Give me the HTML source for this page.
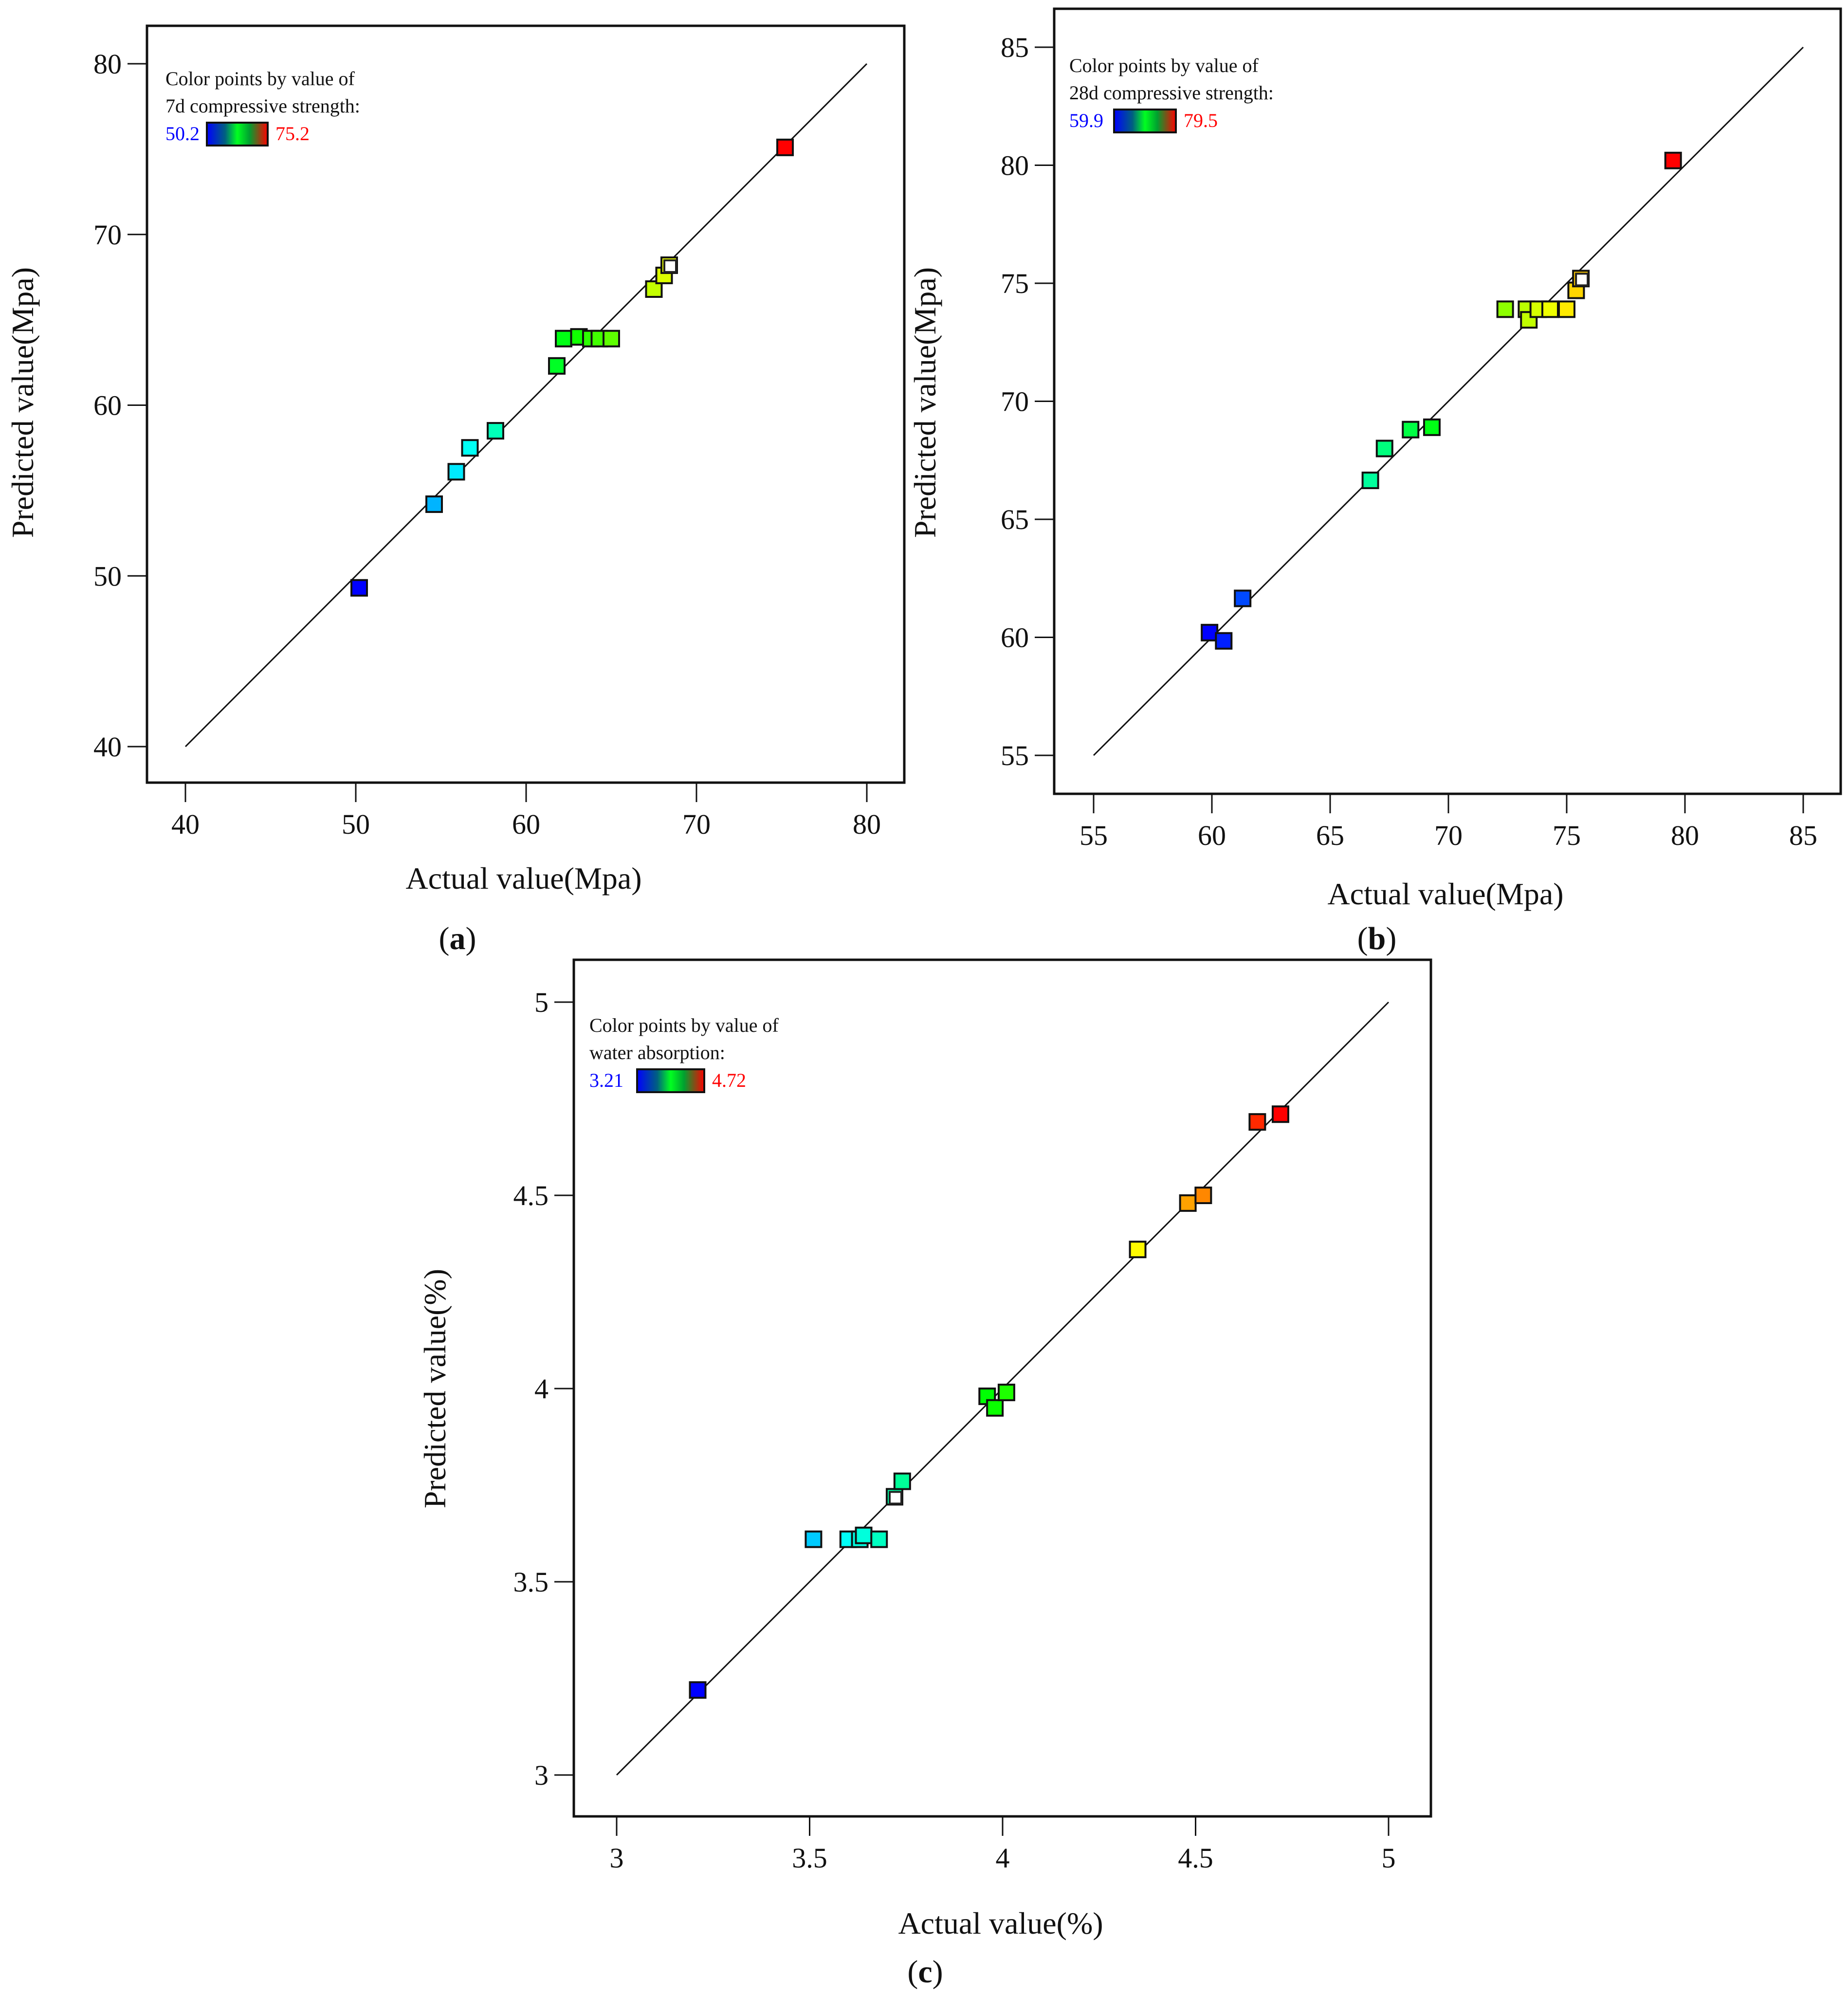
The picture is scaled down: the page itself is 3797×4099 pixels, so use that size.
<!DOCTYPE html>
<html><head><meta charset="utf-8">
<style>
html,body{margin:0;padding:0;background:#fff;}
svg{display:block;font-family:"Liberation Serif",serif;}
</style></head>
<body>
<svg id="fig" width="3797" height="4099" viewBox="0 0 3797 4099" xmlns="http://www.w3.org/2000/svg">
<defs>
<linearGradient id="cbar" x1="0" x2="1" y1="0" y2="0">
<stop offset="0" stop-color="#0000ff"/><stop offset="0.3" stop-color="#006080"/><stop offset="0.5" stop-color="#00ff20"/><stop offset="0.7" stop-color="#00a030"/><stop offset="1" stop-color="#ff0000"/>
</linearGradient>
</defs>
</svg>
<script>
// ---- Panel (a): 7d compressive strength ----
const aActual = [50.2,54.6,55.9,56.7,58.2,61.8,62.2,63.1,63.8,64.3,65.0,67.5,68.1,68.4,75.2];
const aPred   = [49.3,54.2,56.1,57.5,58.5,62.3,63.9,64.0,63.9,63.9,63.9,66.8,67.6,68.2,75.1];
const aHollow = [13];
const aTicks  = [40,50,60,70,80];
// ---- Panel (b): 28d compressive strength ----
const bActual = [59.9,60.5,61.3,66.7,67.3,68.4,69.3,72.4,73.3,73.4,73.8,74.3,75.0,75.4,75.6,79.5];
const bPred   = [60.2,59.85,61.65,66.65,68.0,68.8,68.9,73.9,73.9,73.45,73.9,73.9,73.9,74.7,75.2,80.2];
const bHollow = [14];
const bTicks  = [55,60,65,70,75,80,85];
// ---- Panel (c): water absorption ----
const cActual = [3.21,3.51,3.60,3.63,3.64,3.68,3.72,3.74,3.96,3.98,4.01,4.35,4.48,4.52,4.66,4.72];
const cPred   = [3.22,3.61,3.61,3.61,3.62,3.61,3.72,3.76,3.98,3.95,3.99,4.36,4.48,4.50,4.69,4.71];
const cHollow = [6];
const cTicks  = [3,3.5,4,4.5,5];
const cTickLabels = ["3","3.5","4","4.5","5"];

const NS="http://www.w3.org/2000/svg";
const svg=document.getElementById('fig');
function mk(tag,attrs,parent){const e=document.createElementNS(NS,tag);for(const k in attrs)e.setAttribute(k,attrs[k]);(parent||svg).appendChild(e);return e;}
function jet(t){
  t=Math.max(0,Math.min(1,t));
  const stops=[[0,0,0,255],[0.25,0,255,255],[0.5,0,255,0],[0.75,255,255,0],[1,255,0,0]];
  for(let i=1;i<stops.length;i++){if(t<=stops[i][0]){const a=stops[i-1],b=stops[i];const f=(t-a[0])/(b[0]-a[0]);
    return 'rgb('+[1,2,3].map(j=>Math.round(a[j]+(b[j]-a[j])*f)).join(',')+')';}}
  return 'rgb(255,0,0)';
}
function panel(cfg){
  const g=mk('g',{});
  
  
  const sx=v=>cfg.x0+(v-cfg.t0)*(cfg.x1-cfg.x0)/(cfg.t1-cfg.t0);
  const sy=v=>cfg.y0+(v-cfg.t0)*(cfg.y1-cfg.y0)/(cfg.t1-cfg.t0);
  const box=mk('rect',{x:cfg.L,y:cfg.T,width:cfg.R-cfg.L,height:cfg.B-cfg.T,fill:'none',stroke:'#111','stroke-width':5},g);
  
  
  cfg.ticks.forEach((t,i)=>{
    const lab=cfg.labels?cfg.labels[i]:String(t);
    const xt=mk('line',{x1:sx(t),x2:sx(t),y1:cfg.B,y2:cfg.B+40,stroke:'#111','stroke-width':3},g);
    
    
    const xl=mk('text',{x:sx(t),y:cfg.B+105,'font-size':58,'text-anchor':'middle',fill:'#111'},g);xl.textContent=lab;
    
    
    const yt=mk('line',{x1:cfg.L-40,x2:cfg.L,y1:sy(t),y2:sy(t),stroke:'#111','stroke-width':3},g);
    
    
    const yl=mk('text',{x:cfg.L-52,y:sy(t)+20,'font-size':58,'text-anchor':'end',fill:'#111'},g);yl.textContent=lab;
    
    
  });
  const t0=cfg.ticks[0],t1=cfg.ticks[cfg.ticks.length-1];
  const ln=mk('line',{x1:sx(t0),y1:sy(t0),x2:sx(t1),y2:sy(t1),stroke:'#111','stroke-width':3},g);
  
  
  const mn=Math.min(...cfg.act),mx=Math.max(...cfg.act);
  const s=32;
  cfg.act.forEach((a,i)=>{
    const px=sx(a),py=sy(cfg.pred[i]);
    const r=mk('rect',{x:px-s/2,y:py-s/2,width:s,height:s,fill:jet((a-mn)/(mx-mn)),stroke:'#111','stroke-width':4},g);
    
    
    if(cfg.hollow.includes(i)){
      const h=mk('rect',{x:px-s/2+6,y:py-s/2+6,width:s-8,height:s-8,fill:'#fff',stroke:'#222','stroke-width':4},g);
      
      
    }
  });
  const lx=cfg.L+cfg.lgx, ly=cfg.T+cfg.lgy;
  const l1=mk('text',{x:lx,y:ly,'font-size':40,fill:'#111'},g);l1.textContent='Color points by value of';
  
  
  const l2=mk('text',{x:lx,y:ly+56,'font-size':40,fill:'#111'},g);l2.textContent=cfg.var;
  
  
  const lo=mk('text',{x:lx,y:ly+113,'font-size':40,fill:'#0000ff'},g);lo.textContent=cfg.lo;
  
  
  const cb=mk('rect',{x:lx+cfg.barx,y:ly+77,width:cfg.barw,height:47,fill:'url(#cbar)',stroke:'#111','stroke-width':4},g);
  
  
  const hi=mk('text',{x:lx+cfg.barx+cfg.barw+16,y:ly+113,'font-size':40,fill:'#ff0000'},g);hi.textContent=cfg.hi;
  
  
  const xt=mk('text',{x:cfg.xtx,y:cfg.xty,'font-size':64,'text-anchor':'middle',fill:'#111'},g);xt.textContent=cfg.xtitle;
  
  
  const yt=mk('text',{x:0,y:0,'font-size':64,'text-anchor':'middle',fill:'#111',transform:'translate('+cfg.ytx+','+cfg.yty+') rotate(-90)'},g);yt.textContent=cfg.ytitle;
  
  
  const pl=mk('text',{x:cfg.plx,y:cfg.ply,'font-size':66,'text-anchor':'middle',fill:'#111'},g);
  pl.innerHTML='(<tspan font-weight="bold">'+cfg.letter+'</tspan>)';
  
  
}
panel({name:'panel-a',L:302,T:53,R:1858,B:1608,t0:40,t1:80,x0:381,x1:1781,y0:1534,y1:131,
  ticks:aTicks,act:aActual,pred:aPred,hollow:aHollow,lgx:38,lgy:122,barx:85,barw:125,lo:'50.2',hi:'75.2',
  var:'7d compressive strength:',xtitle:'Actual value(Mpa)',ytitle:'Predicted value(Mpa)',
  xtx:1076,xty:1826,ytx:68,yty:827,plx:940,ply:1950,letter:'a'});
panel({name:'panel-b',L:2166,T:18,R:3782,B:1631,t0:55,t1:85,x0:2247,x1:3705,y0:1552,y1:97,
  ticks:bTicks,act:bActual,pred:bPred,hollow:bHollow,lgx:31,lgy:130,barx:92,barw:127,lo:'59.9',hi:'79.5',
  var:'28d compressive strength:',xtitle:'Actual value(Mpa)',ytitle:'Predicted value(Mpa)',
  xtx:2970,xty:1858,ytx:1922,yty:827,plx:2829,ply:1950,letter:'b'});
panel({name:'panel-c',L:1179,T:1972,R:2940,B:3732,t0:3,t1:5,x0:1267,x1:2853,y0:3647,y1:2059,
  ticks:cTicks,labels:cTickLabels,act:cActual,pred:cPred,hollow:cHollow,lgx:32,lgy:148,barx:98,barw:138,lo:'3.21',hi:'4.72',
  var:'water absorption:',xtitle:'Actual value(%)',ytitle:'Predicted value(%)',
  xtx:2056,xty:3973,ytx:915,yty:2853,plx:1901,ply:4073,letter:'c'});
</script>
</body></html>
